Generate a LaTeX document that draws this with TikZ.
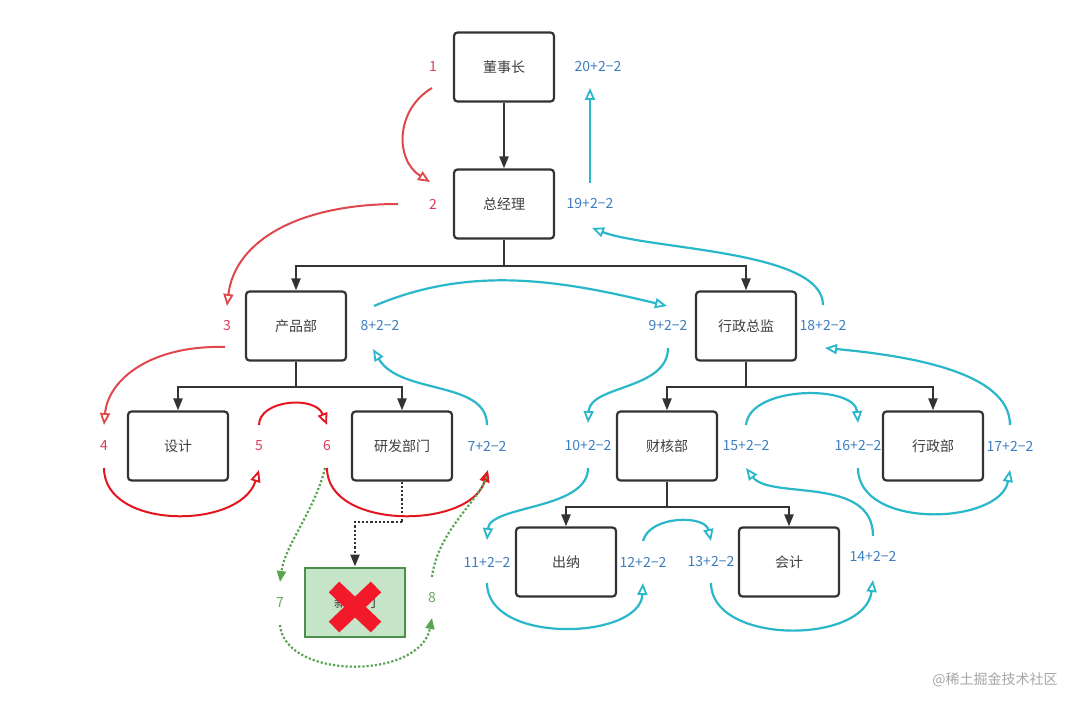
\documentclass[tikz,border=0pt]{standalone}
\usepackage{fontspec}
\setmainfont{Noto Sans CJK SC}
\usetikzlibrary{arrows.meta}
\definecolor{boxline}{HTML}{333333}
\definecolor{redA}{HTML}{E0474C}
\definecolor{redB}{HTML}{E3161F}
\definecolor{cyanA}{HTML}{2AB7CA}
\definecolor{blueT}{HTML}{3D7EC2}
\definecolor{redT}{HTML}{D8405A}
\definecolor{greenL}{HTML}{5AA552}
\definecolor{greenT}{HTML}{6AAA62}
\definecolor{greenF}{HTML}{C6E5C8}
\definecolor{greenD}{HTML}{4A8F4A}
\definecolor{crossR}{HTML}{F2192A}
\begin{document}
\begin{tikzpicture}[x=1pt,y=-1pt,
  orgbox/.style={draw=boxline,line width=2.2pt,rounded corners=3.5pt,minimum width=100pt,minimum height=69pt,inner sep=0pt,font=\fontsize{14}{16}\selectfont,text=black!75},
  tree/.style={draw=boxline,line width=2.2pt,-{Triangle[length=12pt,width=9pt]}},
  treeline/.style={draw=boxline,line width=2.2pt},
  rlab/.style={text=redT,font=\fontsize{14}{16}\selectfont,inner sep=0pt},
  blab/.style={text=blueT,font=\fontsize{14}{16}\selectfont,inner sep=0pt},
  glab/.style={text=greenT,font=\fontsize{14}{16}\selectfont,inner sep=0pt},
  opentip/.style={-{Triangle[open,length=12pt,width=10pt,line width=1.8pt]}},
  redc/.style={draw=redA,line width=2pt,opentip},
  redd/.style={draw=redB,line width=2pt,opentip},
  cyc/.style={draw=cyanA,line width=2.2pt,opentip},
  gdot/.style={draw=greenL,line width=2.2pt,dotted,-{Triangle[length=11pt,width=9pt]}}
]
\useasboundingbox[fill=white] (0,0) rectangle (1080,706);

% boxes
\node[orgbox] (dsz) at (504,67) {董事长};
\node[orgbox] (zjl) at (504,204) {总经理};
\node[orgbox] (cpb) at (296,326) {产品部};
\node[orgbox] (xzzj) at (746,326) {行政总监};
\node[orgbox] (sj) at (178,446) {设计};
\node[orgbox] (yfbm) at (402,446) {研发部门};
\node[orgbox] (chb) at (667,446) {财核部};
\node[orgbox] (xzb) at (933,446) {行政部};
\node[orgbox] (cn) at (566,562) {出纳};
\node[orgbox] (kj) at (789,562) {会计};
\node[orgbox,draw=greenD,fill=greenF,line width=2pt,rounded corners=0pt] (xbm) at (355,602) {新部门};

% red cross
\draw[crossR,line width=15pt] (334,587) -- (376,627);
\draw[crossR,line width=15pt] (376,587) -- (334,627);

% tree edges
\draw[tree] (dsz.south) -- (zjl.north);
\coordinate (j1) at (504,266);
\draw[treeline] (zjl.south) -- (j1);
\draw[tree] (j1) -| (cpb.north);
\draw[tree] (j1) -| (xzzj.north);
\coordinate (j2) at (296,387);
\draw[treeline] (cpb.south) -- (j2);
\draw[tree] (j2) -| (sj.north);
\draw[tree] (j2) -| (yfbm.north);
\coordinate (j3) at (746,387);
\draw[treeline] (xzzj.south) -- (j3);
\draw[tree] (j3) -| (chb.north);
\draw[tree] (j3) -| (xzb.north);
\coordinate (j4) at (667,507);
\draw[treeline] (chb.south) -- (j4);
\draw[tree] (j4) -| (cn.north);
\draw[tree] (j4) -| (kj.north);
\coordinate (j5) at (402,522);
\draw[treeline,dotted,line width=2.4pt] (yfbm.south) -- (j5);
\draw[tree,dotted,line width=2.4pt] (j5) -| (xbm.north);

% labels
\node[rlab] (l1) at (433,67) {1};
\node[rlab] (l2) at (433,204) {2};
\node[rlab] (l3) at (227,326) {3};
\node[rlab] (l4) at (104,446) {4};
\node[rlab] (l5) at (259,446) {5};
\node[rlab] (l6) at (327,446) {6};
\node[glab] (l7) at (280,603) {7};
\node[glab] (l8) at (432,598) {8};
\node[blab] (b7) at (487,446) {7+2−2};
\node[blab] (b8) at (380,326) {8+2−2};
\node[blab] (b9) at (668,326) {9+2−2};
\node[blab] (b10) at (588,446) {10+2−2};
\node[blab] (b11) at (487,562) {11+2−2};
\node[blab] (b12) at (643,562) {12+2−2};
\node[blab] (b13) at (711,562) {13+2−2};
\node[blab] (b14) at (873,556) {14+2−2};
\node[blab] (b15) at (746,446) {15+2−2};
\node[blab] (b16) at (858,446) {16+2−2};
\node[blab] (b17) at (1010,446) {17+2−2};
\node[blab] (b18) at (823,326) {18+2−2};
\node[blab] (b19) at (590,204) {19+2−2};
\node[blab] (b20) at (598,67) {20+2−2};
\node[text=black!35,font=\fontsize{14}{16}\selectfont] (wm) at (995,680) {@稀土掘金技术社区};

% red traversal
\draw[redc] (432,88) .. controls (395,110) and (395,160) .. (430,182);
\draw[redc] (398,204) .. controls (300,204) and (235,240) .. (227,306);
\draw[redc] (225,347) .. controls (150,345) and (108,380) .. (104,425);
\draw[redd] (104,468) .. controls (104,530) and (240,530) .. (259,470);
\draw[redd] (259,425) .. controls (259,400) and (315,395) .. (327,425);
\draw[draw=redB,line width=2pt,-{Triangle[length=12pt,width=10pt]}] (327,468) .. controls (327,530) and (470,530) .. (488,470);

% green dotted
\draw[gdot] (325,468) .. controls (315,510) and (285,545) .. (280,582);
\draw[gdot] (280,625) .. controls (285,680) and (420,680) .. (432,618);
\draw[draw=greenL,line width=2.2pt,dotted] (432,577) .. controls (438,530) and (480,500) .. (487,476);

% cyan traversal
\draw[cyc] (487,425) .. controls (487,380) and (400,395) .. (373,349);
\draw[cyc] (374,306) .. controls (470,265) and (560,280) .. (667,306);
\draw[cyc] (668,348) .. controls (668,390) and (590,385) .. (588,423);
\draw[cyc] (588,468) .. controls (588,510) and (490,505) .. (487,540);
\draw[cyc] (487,583) .. controls (487,645) and (640,640) .. (643,583);
\draw[cyc] (643,541) .. controls (650,515) and (705,515) .. (711,541);
\draw[cyc] (711,583) .. controls (711,645) and (865,645) .. (873,580);
\draw[cyc] (873,536) .. controls (873,475) and (770,500) .. (746,468);
\draw[cyc] (746,425) .. controls (750,385) and (855,385) .. (858,423);
\draw[cyc] (858,468) .. controls (858,530) and (1000,525) .. (1010,470);
\draw[cyc] (1010,425) .. controls (1010,370) and (900,355) .. (825,348);
\draw[cyc] (823,305) .. controls (823,250) and (650,250) .. (592,228);
\draw[cyc] (590,183) -- (590,88);
\end{tikzpicture}
\end{document}
